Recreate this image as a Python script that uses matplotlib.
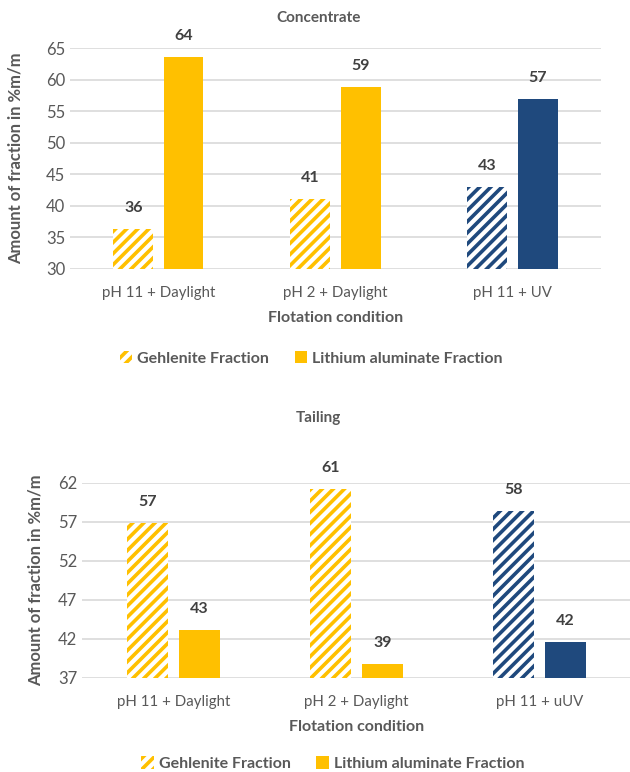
import matplotlib
matplotlib.use('Agg')
import matplotlib.pyplot as plt
from matplotlib.patches import Patch
import numpy as np

# data
conc_conditions = ['pH 11 + Daylight', 'pH 2 + Daylight', 'pH 11 + UV']
conc_gehlenite = [36.4, 41.1, 43.0]
conc_lithium = [63.6, 58.9, 57.0]

tail_conditions = ['pH 11 + Daylight', 'pH 2 + Daylight', 'pH 11 + uUV']
tail_gehlenite = [56.9, 61.2, 58.4]
tail_lithium = [43.1, 38.8, 41.6]

YELLOW = '#FFC000'
NAVY = '#1F497D'
GREY = '#595959'
bar_colors = [YELLOW, YELLOW, NAVY]
HATCH = '///'

plt.rcParams['font.family'] = ['Lato', 'DejaVu Sans']
plt.rcParams['hatch.linewidth'] = 2.6

fig = plt.figure(figsize=(6.3, 7.72), dpi=100)


def draw_panel(ax, conditions, geh, lith, ylim, yticks):
    x = np.arange(len(conditions))
    w = 0.225
    off = 0.142
    for i in range(len(conditions)):
        ax.bar(x[i] - off, geh[i] - ylim[0], w, bottom=ylim[0], color='white',
               edgecolor=bar_colors[i], hatch=HATCH, linewidth=0, zorder=3)
        ax.bar(x[i] + off, lith[i] - ylim[0], w, bottom=ylim[0],
               color=bar_colors[i], linewidth=0, zorder=3)
        for xp, v in ((x[i] - off, geh[i]), (x[i] + off, lith[i])):
            ax.annotate(f'{v:.0f}', (xp, v), xytext=(0, 10), textcoords='offset points',
                        ha='center', va='bottom', fontsize=11.5, fontweight='bold',
                        color='#404040', annotation_clip=False)
    ax.set_xlim(-0.5, len(conditions) - 0.5)
    ax.set_ylim(*ylim)
    ax.set_yticks(yticks)
    ax.set_xticks(x)
    ax.set_xticklabels(conditions)
    ax.tick_params(axis='both', length=0, labelsize=12, labelcolor=GREY)
    ax.tick_params(axis='x', pad=12, labelsize=10.8)
    ax.grid(axis='y', color='#D9D9D9', linewidth=1.2, zorder=0)
    for s in ax.spines.values():
        s.set_visible(False)
    ax.set_ylabel('Amount of fraction in %m/m', fontsize=12, fontweight='bold', color=GREY)
    ax.set_xlabel('Flotation condition', fontsize=11.5, fontweight='bold', color=GREY, labelpad=8)
    handles = [Patch(facecolor='white', edgecolor=YELLOW, hatch=HATCH, linewidth=0),
               Patch(facecolor=YELLOW, linewidth=0)]
    leg = ax.legend(handles, ['Gehlenite Fraction', 'Lithium aluminate Fraction'],
                    loc='center', ncol=2, frameon=False, fontsize=11.5,
                    handlelength=0.8, handleheight=0.8, handletextpad=0.3,
                    columnspacing=1.6)
    for t in leg.get_texts():
        t.set_color(GREY)
        t.set_fontweight('bold')
    return ax, leg


ax1 = fig.add_axes([0.111, 0.6516, 0.843, 0.286])
ax1, leg1 = draw_panel(ax1, conc_conditions, conc_gehlenite, conc_lithium,
                       (30, 65), np.arange(30, 66, 5))
leg1.set_bbox_to_anchor((0.454, -0.405))
ax1.yaxis.set_label_coords(-0.088, 0.5)
fig.text(0.505, 0.977, 'Concentrate', ha='center', va='center', fontsize=11,
         fontweight='bold', color=GREY)

ax2 = fig.add_axes([0.130, 0.1218, 0.871, 0.2526])
ax2, leg2 = draw_panel(ax2, tail_conditions, tail_gehlenite, tail_lithium,
                       (37, 62), np.arange(37, 63, 5))
leg2.set_bbox_to_anchor((0.457, -0.44))
ax2.yaxis.set_label_coords(-0.07, 0.5)
fig.text(0.505, 0.459, 'Tailing', ha='center', va='center', fontsize=11,
         fontweight='bold', color=GREY)

fig.savefig('out.png', dpi=100)
